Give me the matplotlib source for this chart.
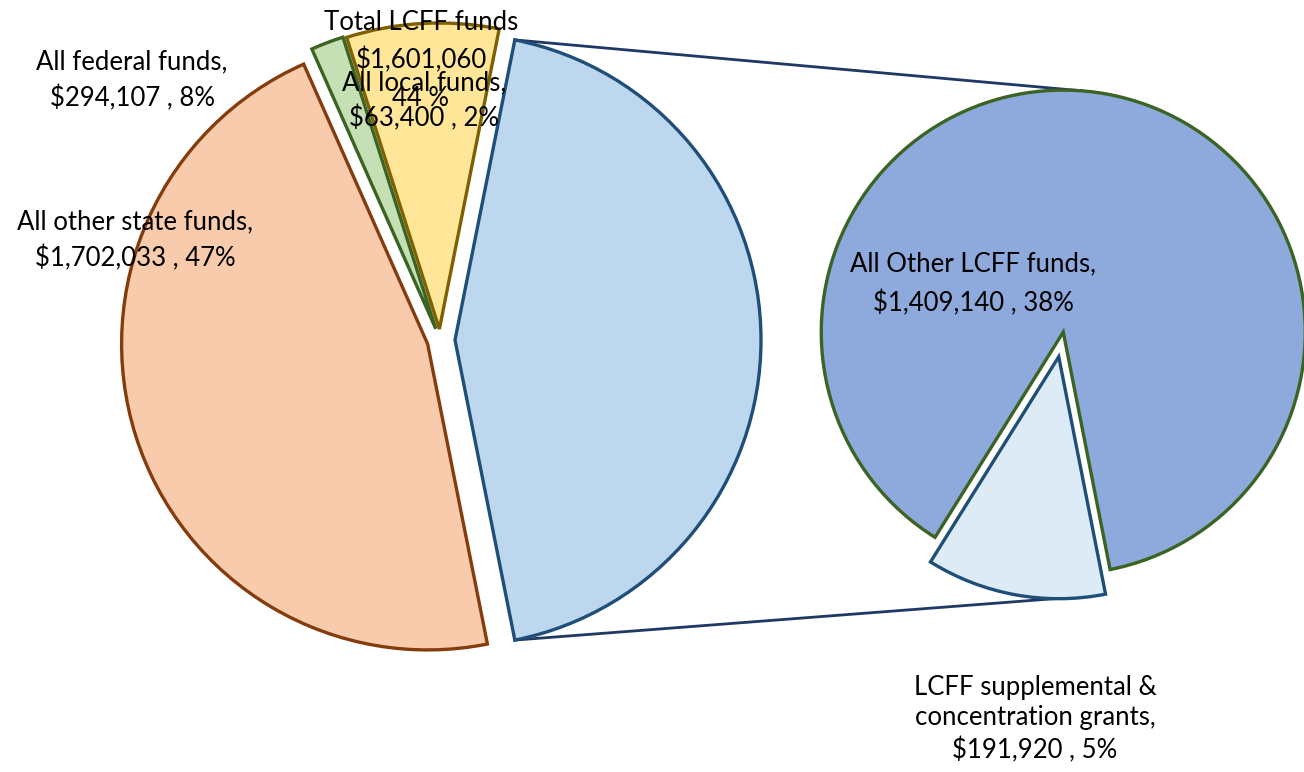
import numpy as np
import matplotlib
matplotlib.use("Agg")
import matplotlib.pyplot as plt

W, H = 1304, 772

# main pie: LCFF (combined), federal, local, other state
main_labels = ["Total LCFF funds", "All federal funds", "All local funds", "All other state funds"]
main_values = [1601060, 294107, 63400, 1702033]
main_pct = ["44 %", "8%", "2%", "47%"]
main_fill = ["#BDD7EE", "#FFE699", "#C5E0B4", "#F8CBAD"]
main_edge = ["#1F4E79", "#7F6000", "#3B6323", "#843C0C"]
main_explode = [15, 11, 12, 13]   # pixels

# secondary pie: breakdown of LCFF
sub_labels = ["LCFF supplemental & concentration grants", "All Other LCFF funds"]
sub_values = [191920, 1409140]
sub_pct = ["5%", "38%"]
sub_fill = ["#DDEBF7", "#8EA9DB"]
sub_edge = ["#1F4E79", "#3B6323"]
sub_explode = [18, 7]

FONT = ["Lato", "DejaVu Sans"]
FS = 18.5


def py(y):
    # pixel row -> data y (y axis points up)
    return H - y


fig = plt.figure(figsize=(W / 100, H / 100), dpi=100)
ax = fig.add_axes([0, 0, 1, 1])

R1, C1 = 306, (440, py(340))
start1 = -360 * main_values[0] / sum(main_values) / 2
w1, _ = ax.pie(main_values, colors=main_fill, startangle=start1, counterclock=True,
               radius=R1, center=C1, explode=main_explode,
               wedgeprops=dict(linewidth=2.4))
for w, ec in zip(w1, main_edge):
    w.set_edgecolor(ec)

R2, C2 = 242, (1062, py(339))
w2, _ = ax.pie(sub_values, colors=sub_fill, startangle=-122, counterclock=True,
               radius=R2, center=C2, explode=sub_explode,
               wedgeprops=dict(linewidth=2.4))
for w, ec in zip(w2, sub_edge):
    w.set_edgecolor(ec)


def on_arc(wedge, ang):
    cx, cy = wedge.center
    a = np.deg2rad(ang)
    return cx + wedge.r * np.cos(a), cy + wedge.r * np.sin(a)


# connector lines from the LCFF slice to the breakdown pie
lcff = w1[0]
p_top = on_arc(lcff, lcff.theta2)
p_bot = on_arc(lcff, lcff.theta1)
q_top = on_arc(w2[1], 85.5)
q_bot = on_arc(w2[0], -91)
ax.plot([p_top[0], q_top[0]], [p_top[1], q_top[1]], color="#1F3864", lw=2, zorder=0.5)
ax.plot([p_bot[0], q_bot[0]], [p_bot[1], q_bot[1]], color="#1F3864", lw=2, zorder=0.5)


def lab(x, ys, lines):
    for y, t in zip(ys, lines):
        ax.text(x, py(y), t, ha="center", va="center", fontsize=FS, family=FONT, zorder=5)


lab(132, [62, 98], ["All federal funds,", f"${main_values[1]:,} , {main_pct[1]}"])
lab(135, [222, 258], ["All other state funds,", f"${main_values[3]:,} , {main_pct[3]}"])
lab(421, [22, 60, 98], ["Total LCFF funds", f"${main_values[0]:,}", main_pct[0]])
lab(424, [83, 118], ["All local funds,", f"${main_values[2]:,} , {main_pct[2]}"])
lab(973, [264, 303], ["All Other LCFF funds,", f"${sub_values[1]:,} , {sub_pct[1]}"])
lab(1035, [687, 718, 750], ["LCFF supplemental &", "concentration grants,",
                             f"${sub_values[0]:,} , {sub_pct[0]}"])

ax.set_xlim(0, W)
ax.set_ylim(0, H)
ax.set_aspect("auto")
ax.axis("off")
fig.savefig("out.png", dpi=100)
